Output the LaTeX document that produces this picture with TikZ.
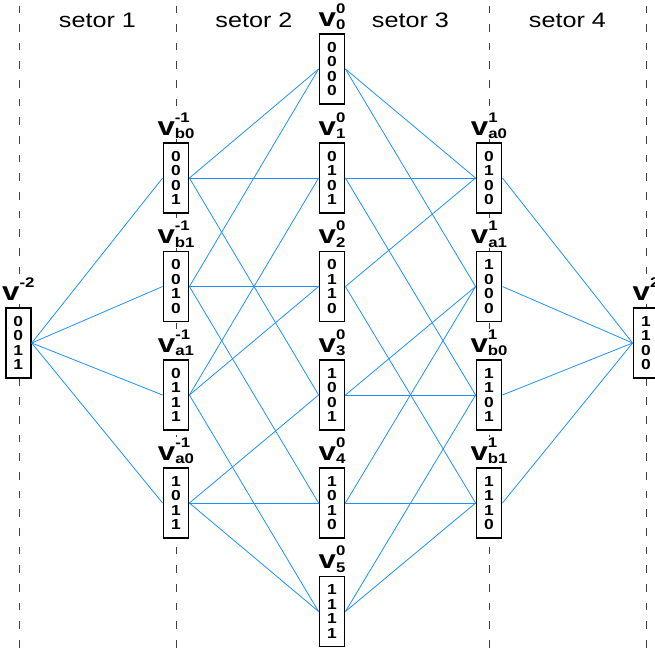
\documentclass[tikz,border=0pt]{standalone}
\usepackage{fontspec}
\setmainfont{Liberation Sans}[FakeStretch=1.2]
\usepackage{graphicx}
\definecolor{edgeblue}{RGB}{30,144,255}

% bold "v" with a superscript and a subscript stacked on its right
\newcommand{\vsc}[2]{{\fontsize{26}{26}\selectfont v}{\fontsize{14}{14}\selectfont\rlap{\raisebox{13pt}{#1}}\raisebox{-3.5pt}{#2}}}
% bold "v" with a superscript only
\newcommand{\vsp}[1]{{\fontsize{26}{26}\selectfont v}{\fontsize{14}{14}\selectfont\raisebox{13pt}{#1}}}

\tikzset{
  vecbox/.style={draw, line width=1.8pt, fill=white, minimum width=25pt,
    minimum height=70pt, inner sep=0pt, align=center,
    font=\fontsize{14.5}{14.5}\selectfont\bfseries},
  veclab/.style={anchor=base, yshift=7pt, inner sep=0.5pt, fill=white,
    font=\bfseries},
  sector/.style={anchor=base, font=\fontsize{21}{21}\selectfont},
  divider/.style={black!75, line width=0.9pt, dash pattern=on 7.6pt off 11.06pt},
  edge/.style={edgeblue, line width=0.8pt}
}

\begin{document}
\begin{tikzpicture}[x=1pt, y=-1pt]
\useasboundingbox (0,0) rectangle (655,648);

% sector boundaries
\draw[divider] (19,5.5) -- (19,648);
\draw[divider] (176,5.5) -- (176,648);
\draw[divider] (489,5.5) -- (489,648);
\draw[divider] (646,5.5) -- (646,648);

% sector titles
\node[sector] (s1) at (97.5,27) {setor 1};
\node[sector] (s2) at (254,27) {setor 2};
\node[sector] (s3) at (410.5,27) {setor 3};
\node[sector] (s4) at (567.5,27) {setor 4};

% level -2
\node[vecbox] (L) at (18.3,343) {0\\0\\1\\1};
% level -1
\node[vecbox] (B0) at (176,178) {0\\0\\0\\1};
\node[vecbox] (B1) at (176,286.5) {0\\0\\1\\0};
\node[vecbox] (A1) at (176,395) {0\\1\\1\\1};
\node[vecbox] (A0) at (176,503) {1\\0\\1\\1};
% level 0
\node[vecbox] (Z0) at (332,69) {0\\0\\0\\0};
\node[vecbox] (Z1) at (332,178) {0\\1\\0\\1};
\node[vecbox] (Z2) at (332,286.5) {0\\1\\1\\0};
\node[vecbox] (Z3) at (332,395) {1\\0\\0\\1};
\node[vecbox] (Z4) at (332,503) {1\\0\\1\\0};
\node[vecbox] (Z5) at (332,611.5) {1\\1\\1\\1};
% level 1
\node[vecbox] (P0) at (489,178) {0\\1\\0\\0};
\node[vecbox] (P1) at (489,286.5) {1\\0\\0\\0};
\node[vecbox] (Q0) at (489,395) {1\\1\\0\\1};
\node[vecbox] (Q1) at (489,503) {1\\1\\1\\0};
% level 2
\node[vecbox] (R) at (646,343) {1\\1\\0\\0};

% names above the boxes
\node[veclab] (lL) at (L.north) {\vsp{-2}};
\node[veclab] (lB0) at (B0.north) {\vsc{-1}{b0}};
\node[veclab] (lB1) at (B1.north) {\vsc{-1}{b1}};
\node[veclab] (lA1) at (A1.north) {\vsc{-1}{a1}};
\node[veclab] (lA0) at (A0.north) {\vsc{-1}{a0}};
\node[veclab] (lZ0) at (Z0.north) {\vsc{0}{0}};
\node[veclab] (lZ1) at (Z1.north) {\vsc{0}{1}};
\node[veclab] (lZ2) at (Z2.north) {\vsc{0}{2}};
\node[veclab] (lZ3) at (Z3.north) {\vsc{0}{3}};
\node[veclab] (lZ4) at (Z4.north) {\vsc{0}{4}};
\node[veclab] (lZ5) at (Z5.north) {\vsc{0}{5}};
\node[veclab] (lP0) at (P0.north) {\vsc{1}{a0}};
\node[veclab] (lP1) at (P1.north) {\vsc{1}{a1}};
\node[veclab] (lQ0) at (Q0.north) {\vsc{1}{b0}};
\node[veclab] (lQ1) at (Q1.north) {\vsc{1}{b1}};
\node[veclab] (lR) at (R.north) {\vsp{2}};

% transitions between neighbouring vectors (Hamming distance 1)
\foreach \t in {B0,B1,A1,A0} \draw[edge] (L.east) -- (\t.west);
\foreach \t in {Z0,Z1,Z3} \draw[edge] (B0.east) -- (\t.west);
\foreach \t in {Z0,Z2,Z4} \draw[edge] (B1.east) -- (\t.west);
\foreach \t in {Z1,Z2,Z5} \draw[edge] (A1.east) -- (\t.west);
\foreach \t in {Z3,Z4,Z5} \draw[edge] (A0.east) -- (\t.west);
\foreach \t in {P0,P1} \draw[edge] (Z0.east) -- (\t.west);
\foreach \t in {P0,Q0} \draw[edge] (Z1.east) -- (\t.west);
\foreach \t in {P0,Q1} \draw[edge] (Z2.east) -- (\t.west);
\foreach \t in {P1,Q0} \draw[edge] (Z3.east) -- (\t.west);
\foreach \t in {P1,Q1} \draw[edge] (Z4.east) -- (\t.west);
\foreach \t in {Q0,Q1} \draw[edge] (Z5.east) -- (\t.west);
\foreach \s in {P0,P1,Q0,Q1} \draw[edge] (\s.east) -- (R.west);
\end{tikzpicture}
\end{document}
